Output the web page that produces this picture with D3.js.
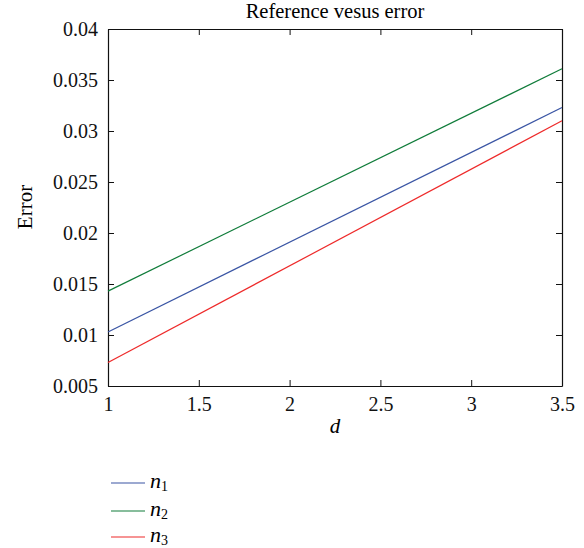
<!DOCTYPE html>
<html lang="en">
<head>
<meta charset="UTF-8">
<script src="https://d3js.org/d3.v7.min.js"></script>
<style>
  body { margin: 0; background: #fff; }
</style>
</head>
<body>
<div id="chart"></div>
<script>
// data (straight lines, endpoints at d = 1 and d = 3.5)
var dValues = [1, 3.5];
var n1 = [0.0103, 0.0323];
var n2 = [0.0143, 0.0361];
var n3 = [0.0073, 0.0310];
var seriesNames = ["n1", "n2", "n3"];
var seriesColors = ["#3a55a4", "#107c3a", "#ee2a2a"];
var xTicks = [1, 1.5, 2, 2.5, 3, 3.5];
var yTicks = [0.005, 0.01, 0.015, 0.02, 0.025, 0.03, 0.035, 0.04];

var width = 584, height = 548;
var margin = {top: 29, right: 22, bottom: 162, left: 108};
var serif = "'Liberation Serif', 'DejaVu Serif', serif";

var svg = d3.select("#chart").append("svg")
    .attr("width", width)
    .attr("height", height);

var x = d3.scaleLinear().domain([1, 3.5]).range([margin.left, width - margin.right]);
var y = d3.scaleLinear().domain([0.005, 0.04]).range([height - margin.bottom, margin.top]);

var fmt = d => String(d);
var styleText = g => g.selectAll("text")
    .style("font-family", serif)
    .style("font-size", "20px")
    .style("fill", "#111");

// axes with inward ticks, mirrored on top/right
svg.append("g")
    .attr("transform", `translate(0,${y.range()[0]})`)
    .call(d3.axisBottom(x).tickValues(xTicks).tickFormat(fmt).tickSizeInner(-6).tickSizeOuter(0).tickPadding(11))
    .call(styleText);
svg.append("g")
    .attr("transform", `translate(0,${y.range()[1]})`)
    .call(d3.axisTop(x).tickValues(xTicks).tickFormat("").tickSizeInner(-6).tickSizeOuter(0));
svg.append("g")
    .attr("transform", `translate(${x.range()[0]},0)`)
    .call(d3.axisLeft(y).tickValues(yTicks).tickFormat(fmt).tickSizeInner(-6).tickSizeOuter(0).tickPadding(10))
    .call(styleText);
svg.append("g")
    .attr("transform", `translate(${x.range()[1]},0)`)
    .call(d3.axisRight(y).tickValues(yTicks).tickFormat("").tickSizeInner(-6).tickSizeOuter(0));

svg.selectAll(".domain").attr("stroke", "#111").attr("stroke-width", 1.2);
svg.selectAll(".tick line").attr("stroke", "#111");

var line = d3.line().x(d => x(d[0])).y(d => y(d[1]));
[n1, n2, n3].forEach(function(vals, i) {
  svg.append("path")
    .datum(dValues.map((d, j) => [d, vals[j]]))
    .attr("fill", "none")
    .attr("stroke", seriesColors[i])
    .attr("stroke-width", 1.2)
    .attr("d", line);
});

// titles
svg.append("text")
    .attr("x", (x.range()[0] + x.range()[1]) / 2)
    .attr("y", 18)
    .attr("text-anchor", "middle")
    .style("font-family", serif)
    .style("font-size", "20.5px")
    .text("Reference vesus error");

svg.append("text")
    .attr("transform", `translate(32,207) rotate(-90)`)
    .attr("text-anchor", "middle")
    .style("font-family", serif)
    .style("font-size", "21px")
    .text("Error");

svg.append("text")
    .attr("x", (x.range()[0] + x.range()[1]) / 2)
    .attr("y", 433)
    .attr("text-anchor", "middle")
    .style("font-family", serif)
    .style("font-size", "21px")
    .style("font-style", "italic")
    .text("d");

// legend
var legend = svg.append("g").attr("transform", "translate(111,483)");
seriesNames.forEach(function(name, i) {
  var g = legend.append("g").attr("transform", `translate(0,${[0, 28, 54][i]})`);
  g.append("line").attr("x1", 0).attr("x2", 34).attr("y1", 0).attr("y2", 0)
    .attr("stroke", seriesColors[i]).attr("stroke-width", 1.2);
  var t = g.append("text").attr("x", 39).attr("y", 5)
    .style("font-family", serif).style("font-size", "22px");
  t.append("tspan").style("font-style", "italic").text("n");
  t.append("tspan").style("font-size", "14px").attr("dy", 3).text(name.slice(1));
});
</script>
</body>
</html>
